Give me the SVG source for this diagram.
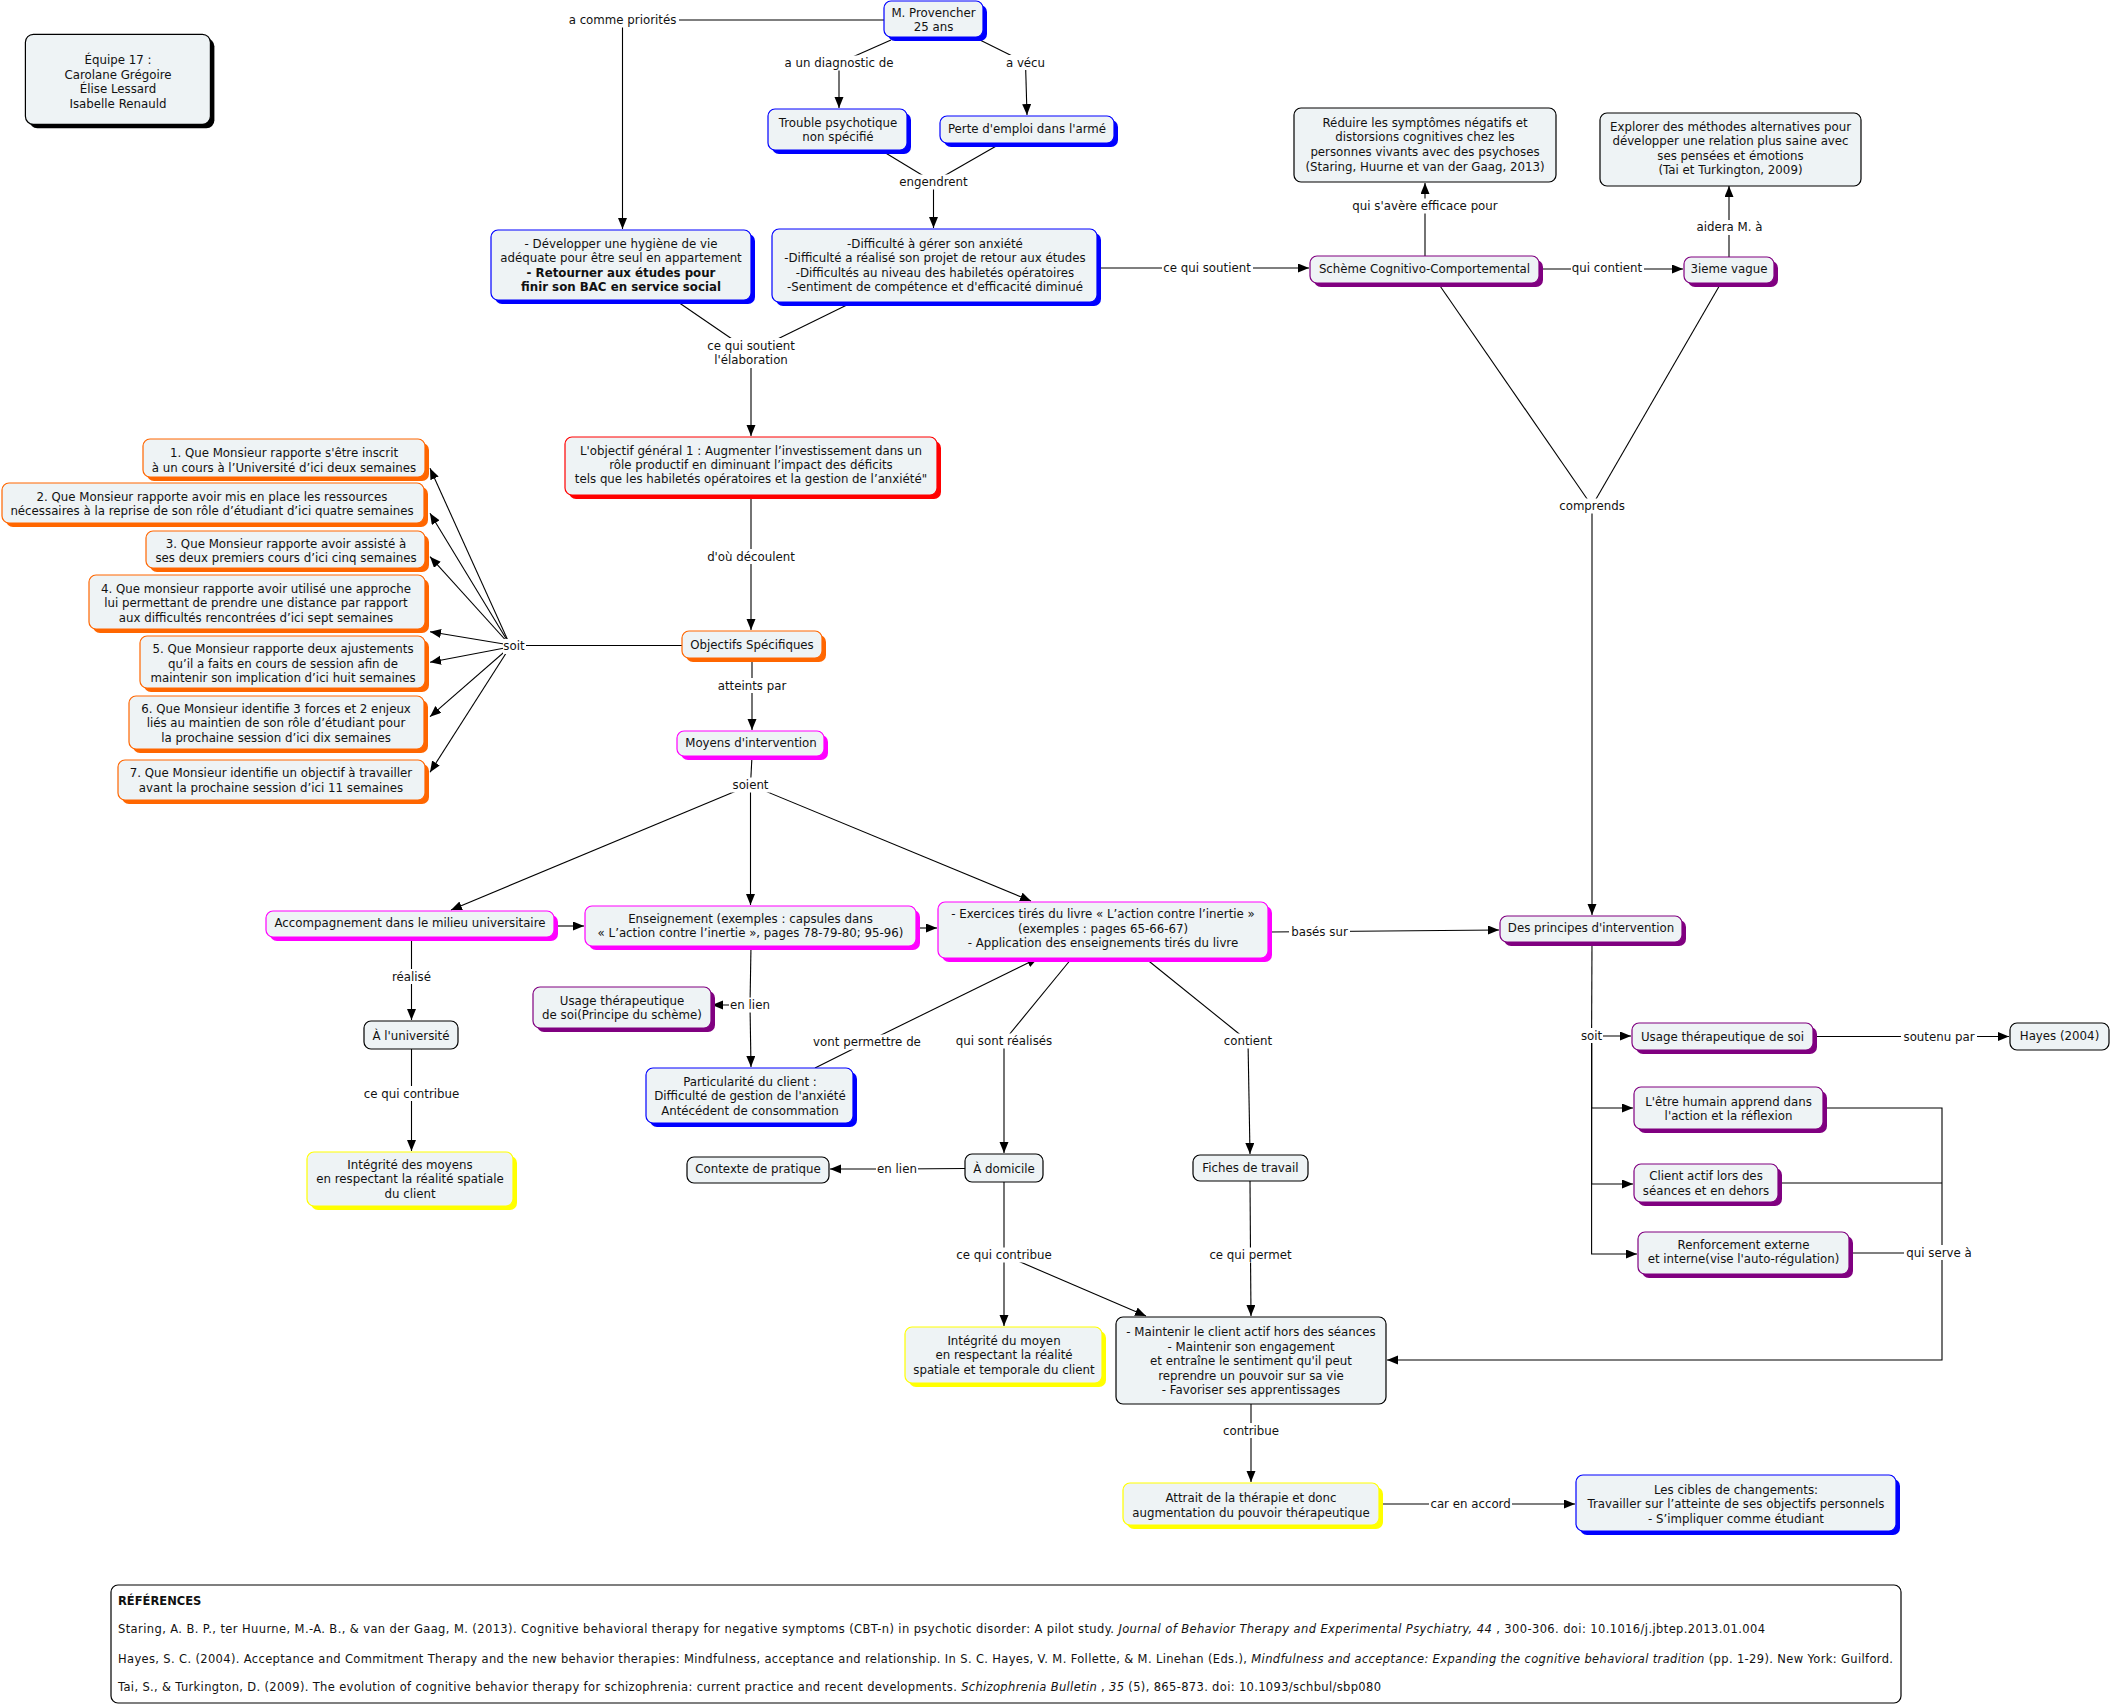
<svg xmlns="http://www.w3.org/2000/svg" width="2111" height="1706" viewBox="0 0 2111 1706">
<style>
text{font-family:"DejaVu Sans",Verdana,sans-serif;font-size:11.8px;fill:#111;text-anchor:middle}
.bx{fill:#EEF3F5;stroke-width:1.2}
.sh{stroke:none}
.blue .bx{stroke:#0000FF}.blue .sh{fill:#0000FF}
.purple .bx{stroke:#800080}.purple .sh{fill:#800080}
.mag .bx{stroke:#FF00FF}.mag .sh{fill:#FF00FF}
.orange .bx{stroke:#FF6600}.orange .sh{fill:#FF6600}
.red .bx{stroke:#FF0000}.red .sh{fill:#FF0000}
.yellow .bx{stroke:#FFFF00}.yellow .sh{fill:#FFFF00}
.black .bx{stroke:#000}.black .sh{fill:#000}
.plain .bx{stroke:#000}
.b{font-weight:bold}
#connectors path{fill:none;stroke:#000;stroke-width:1.1}
#connectors path.a{marker-end:url(#arr)}
.lab rect{fill:#fff}
.ref{text-anchor:start;font-size:11.5px}
</style>
<defs>
<marker id="arr" markerUnits="userSpaceOnUse" markerWidth="12" markerHeight="10" refX="11" refY="4.5" orient="auto"><path d="M0,0 L11,4.5 L0,9 z" fill="#000"/></marker>
</defs>
<rect width="2111" height="1706" fill="#fff"/>

<g id="connectors">
<path class="a" d="M884,20 H622.5 V229"/>
<path d="M891,40 L839,63"/><path class="a" d="M839,63 V108"/>
<path d="M980,40 L1025.5,62.7"/><path class="a" d="M1025.5,62.7 L1027,115"/>
<path d="M884,152 L933.5,182"/><path d="M998,145 L933.5,182"/><path class="a" d="M933.5,182 V228"/>
<path d="M678,302 L751,352"/><path d="M853,302 L751,352"/><path class="a" d="M751,352 V436"/>
<path class="a" d="M1097,268 H1309"/>
<path class="a" d="M1425,256 V183"/>
<path class="a" d="M1539,269 H1683"/>
<path class="a" d="M1729,257 V186"/>
<path d="M1438,283 L1592,506"/><path d="M1721,283 L1592,506"/><path class="a" d="M1592,506 V915"/>
<path class="a" d="M751,495 V630"/>
<path d="M682,645.5 H514"/>
<path class="a" d="M510,645 L430,468.3"/>
<path class="a" d="M510,645 L430,513.3"/>
<path class="a" d="M510,645 L430,556.7"/>
<path class="a" d="M510,645 L430,631.7"/>
<path class="a" d="M510,647 L430,662.3"/>
<path class="a" d="M510,647 L430,716.7"/>
<path class="a" d="M510,647 L430,772.3"/>
<path class="a" d="M752,658 V730"/>
<path d="M752,756 L750.5,785"/>
<path class="a" d="M750.5,785 L451,910"/>
<path class="a" d="M750.5,785 V905"/>
<path class="a" d="M750.5,785 L1031,901"/>
<path class="a" d="M411.5,937 V1020"/>
<path class="a" d="M554,926 H584"/>
<path class="a" d="M916,928 H937"/>
<path class="a" d="M411.5,1049 V1151"/>
<path d="M751,946 L750,1005"/><path class="a" d="M750,1005 H712"/><path class="a" d="M750,1005 L751,1067"/>
<path d="M815,1068 L867,1042"/><path class="a" d="M867,1042 L1038,958"/>
<path d="M1072,958 L1004,1041"/><path class="a" d="M1004,1041 V1153"/>
<path d="M1145,958 L1248,1041"/><path class="a" d="M1248,1041 L1250,1154"/>
<path class="a" d="M1268,932 L1499,930"/>
<path d="M965,1168.5 L897,1169"/><path class="a" d="M897,1169 H830"/>
<path d="M1004,1182 V1255"/><path class="a" d="M1004,1255 V1326"/><path class="a" d="M1004,1255 L1146,1316"/>
<path d="M1250,1181 L1250.5,1255"/><path class="a" d="M1250.5,1255 L1251,1316"/>
<path class="a" d="M1251,1404 V1482"/>
<path class="a" d="M1379,1504 H1575"/>
<path d="M1592,942 L1591.6,1036"/>
<path class="a" d="M1591.6,1036 H1631"/>
<path class="a" d="M1591.6,1036 V1108 H1633"/>
<path class="a" d="M1591.6,1036 V1184 H1633"/>
<path class="a" d="M1591.6,1036 V1254 H1637"/>
<path d="M1813,1036.5 H1939"/><path class="a" d="M1939,1036.5 H2009"/>
<path d="M1823,1108 H1942 V1253"/><path d="M1778,1183 H1942"/><path d="M1849,1253 H1939"/>
<path class="a" d="M1942,1253 V1360 H1387"/>
</g>

<g id="connector-labels" class="lab">
<rect x="566" y="12.5" width="113" height="15"/><text x="622.5" y="24">a comme priorités</text>
<rect x="781" y="55.5" width="116" height="15"/><text x="839" y="67">a un diagnostic de</text>
<rect x="1004" y="55" width="43" height="15"/><text x="1025.5" y="66.7">a vécu</text>
<rect x="898" y="174.5" width="71" height="15"/><text x="933.5" y="186">engendrent</text>
<rect x="705" y="338" width="92" height="30"/><text x="751" y="349.7">ce qui soutient</text><text x="751" y="364">l'élaboration</text>
<rect x="1162" y="260.5" width="91" height="15"/><text x="1207" y="272">ce qui soutient</text>
<rect x="1350" y="198.5" width="150" height="15"/><text x="1425" y="210">qui s'avère efficace pour</text>
<rect x="1571" y="260.5" width="73" height="15"/><text x="1607" y="272">qui contient</text>
<rect x="1695" y="220" width="70" height="15"/><text x="1729.5" y="231.3">aidera M. à</text>
<rect x="1558" y="498.5" width="68" height="15"/><text x="1592" y="510">comprends</text>
<rect x="706" y="549" width="90" height="15"/><text x="751" y="560.7">d'où découlent</text>
<rect x="503" y="639" width="23" height="15"/><text x="514" y="650">soit</text>
<rect x="716" y="678" width="72" height="15"/><text x="752" y="689.7">atteints par</text>
<rect x="731" y="777.5" width="39" height="15"/><text x="750.5" y="789">soient</text>
<rect x="391" y="969" width="41" height="15"/><text x="411.5" y="980.7">réalisé</text>
<rect x="362" y="1086" width="99" height="15"/><text x="411.5" y="1097.7">ce qui contribue</text>
<rect x="729" y="997.5" width="42" height="15"/><text x="750" y="1009.3">en lien</text>
<rect x="811" y="1034.5" width="112" height="15"/><text x="867" y="1046.3">vont permettre de</text>
<rect x="954" y="1033.5" width="100" height="15"/><text x="1004" y="1045">qui sont réalisés</text>
<rect x="1223" y="1033.5" width="50" height="15"/><text x="1248" y="1045">contient</text>
<rect x="1289" y="924" width="61" height="15"/><text x="1319.5" y="935.7">basés sur</text>
<rect x="876" y="1161.5" width="42" height="15"/><text x="897" y="1173">en lien</text>
<rect x="955" y="1247.5" width="98" height="15"/><text x="1004" y="1259">ce qui contribue</text>
<rect x="1208" y="1247.5" width="85" height="15"/><text x="1250.5" y="1259">ce qui permet</text>
<rect x="1222" y="1423" width="59" height="15"/><text x="1251" y="1434.7">contribue</text>
<rect x="1429" y="1497" width="83" height="15"/><text x="1470.6" y="1508.3">car en accord</text>
<rect x="1580" y="1028" width="23" height="15"/><text x="1591.6" y="1039.7">soit</text>
<rect x="1901" y="1029" width="76" height="15"/><text x="1939" y="1040.7">soutenu par</text>
<rect x="1904" y="1245" width="70" height="15"/><text x="1939" y="1256.7">qui serve à</text>
</g>

<g id="n-team" class="black"><rect class="sh" x="29.4" y="38.3" width="185" height="90" rx="8"/><rect class="bx" x="25.4" y="34.3" width="185" height="90" rx="8"/>
<text x="118" y="64">Équipe 17 :</text><text x="118" y="78.5">Carolane Grégoire</text><text x="118" y="93">Élise Lessard</text><text x="118" y="107.5">Isabelle Renauld</text></g>

<g id="n-prov" class="blue"><rect class="sh" x="888" y="5" width="99" height="36" rx="7"/><rect class="bx" x="884" y="1" width="99" height="36" rx="7"/>
<text x="933.5" y="16.7">M. Provencher</text><text x="933.5" y="31.3">25 ans</text></g>

<g id="n-trouble" class="blue"><rect class="sh" x="772" y="113" width="139" height="41" rx="7"/><rect class="bx" x="768" y="109" width="139" height="41" rx="7"/>
<text x="838" y="127">Trouble psychotique</text><text x="838" y="141">non spécifié</text></g>

<g id="n-perte" class="blue"><rect class="sh" x="944" y="120" width="174" height="27" rx="7"/><rect class="bx" x="940" y="116" width="174" height="27" rx="7"/>
<text x="1027" y="133.3">Perte d'emploi dans l'armé</text></g>

<g id="n-dev" class="blue"><rect class="sh" x="495" y="234" width="260" height="70" rx="7"/><rect class="bx" x="491" y="230" width="260" height="70" rx="7"/>
<text x="621" y="248">- Développer une hygiène de vie</text><text x="621" y="262.3">adéquate pour être seul en appartement</text><text x="621" y="276.7" class="b">- Retourner aux études pour</text><text x="621" y="291.3" class="b">finir son BAC en service social</text></g>

<g id="n-diff" class="blue"><rect class="sh" x="776" y="233" width="325" height="73" rx="7"/><rect class="bx" x="772" y="229" width="325" height="73" rx="7"/>
<text x="935" y="248">-Difficulté à gérer son anxiété</text><text x="935" y="262.3">-Difficulté a réalisé son projet de retour aux études</text><text x="935" y="276.7">-Difficultés au niveau des habiletés opératoires</text><text x="935" y="291.3">-Sentiment de compétence et d'efficacité diminué</text></g>

<g id="n-objgen" class="red"><rect class="sh" x="569" y="441" width="372" height="58" rx="7"/><rect class="bx" x="565" y="437" width="372" height="58" rx="7"/>
<text x="751" y="454.7">L'objectif général 1 : Augmenter l’investissement dans un</text><text x="751" y="469">rôle productif en diminuant l’impact des déficits</text><text x="751" y="483.3">tels que les habiletés opératoires et la gestion de l’anxiété"</text></g>

<g id="n-objspec" class="orange"><rect class="sh" x="686" y="635" width="140" height="27" rx="7"/><rect class="bx" x="682" y="631" width="140" height="27" rx="7"/>
<text x="752" y="649">Objectifs Spécifiques</text></g>

<g id="n-smart1" class="orange"><rect class="sh" x="147" y="443" width="282" height="38" rx="7"/><rect class="bx" x="143" y="439" width="282" height="38" rx="7"/>
<text x="284" y="457.3">1. Que Monsieur rapporte s'être inscrit</text><text x="284" y="472.3">à un cours à l’Université d’ici deux semaines</text></g>
<g id="n-smart2" class="orange"><rect class="sh" x="6" y="487" width="422" height="40" rx="7"/><rect class="bx" x="2" y="483" width="422" height="40" rx="7"/>
<text x="212" y="500.7">2. Que Monsieur rapporte avoir mis en place les ressources</text><text x="212" y="515">nécessaires à la reprise de son rôle d’étudiant d’ici quatre semaines</text></g>
<g id="n-smart3" class="orange"><rect class="sh" x="150" y="535" width="279" height="37" rx="7"/><rect class="bx" x="146" y="531" width="279" height="37" rx="7"/>
<text x="286" y="547.7">3. Que Monsieur rapporte avoir assisté à</text><text x="286" y="562">ses deux premiers cours d’ici cinq semaines</text></g>
<g id="n-smart4" class="orange"><rect class="sh" x="93" y="579" width="336" height="54" rx="7"/><rect class="bx" x="89" y="575" width="336" height="54" rx="7"/>
<text x="256" y="592.7">4. Que monsieur rapporte avoir utilisé une approche</text><text x="256" y="607.3">lui permettant de prendre une distance par rapport</text><text x="256" y="621.7">aux difficultés rencontrées d’ici sept semaines</text></g>
<g id="n-smart5" class="orange"><rect class="sh" x="144" y="640" width="285" height="52" rx="7"/><rect class="bx" x="140" y="636" width="285" height="52" rx="7"/>
<text x="283" y="653">5. Que Monsieur rapporte deux ajustements</text><text x="283" y="667.7">qu’il a faits en cours de session afin de</text><text x="283" y="682">maintenir son implication d’ici huit semaines</text></g>
<g id="n-smart6" class="orange"><rect class="sh" x="133" y="700" width="295" height="53" rx="7"/><rect class="bx" x="129" y="696" width="295" height="53" rx="7"/>
<text x="276" y="712.7">6. Que Monsieur identifie 3 forces et 2 enjeux</text><text x="276" y="727.3">liés au maintien de son rôle d’étudiant pour</text><text x="276" y="742">la prochaine session d’ici dix semaines</text></g>
<g id="n-smart7" class="orange"><rect class="sh" x="122" y="764" width="307" height="40" rx="7"/><rect class="bx" x="118" y="760" width="307" height="40" rx="7"/>
<text x="271" y="777.3">7. Que Monsieur identifie un objectif à travailler</text><text x="271" y="792.3">avant la prochaine session d’ici 11 semaines</text></g>

<g id="n-moyens" class="mag"><rect class="sh" x="681" y="735" width="147" height="25" rx="7"/><rect class="bx" x="677" y="731" width="147" height="25" rx="7"/>
<text x="751" y="746.7">Moyens d'intervention</text></g>

<g id="n-accomp" class="mag"><rect class="sh" x="270" y="915" width="288" height="26" rx="7"/><rect class="bx" x="266" y="911" width="288" height="26" rx="7"/>
<text x="410" y="926.7">Accompagnement dans le milieu universitaire</text></g>

<g id="n-enseig" class="mag"><rect class="sh" x="589" y="910" width="331" height="40" rx="7"/><rect class="bx" x="585" y="906" width="331" height="40" rx="7"/>
<text x="750.5" y="923">Enseignement (exemples : capsules dans</text><text x="750.5" y="937.3">« L’action contre l’inertie », pages 78-79-80; 95-96)</text></g>

<g id="n-exer" class="mag"><rect class="sh" x="942" y="906" width="330" height="56" rx="7"/><rect class="bx" x="938" y="902" width="330" height="56" rx="7"/>
<text x="1103" y="918.3">- Exercices tirés du livre « L’action contre l’inertie »</text><text x="1103" y="933.3">(exemples : pages 65-66-67)</text><text x="1103" y="947.3">- Application des enseignements tirés du livre</text></g>

<g id="n-univ" class="plain"><rect class="bx" x="364" y="1021" width="94" height="28" rx="7"/>
<text x="411" y="1040">À l'université</text></g>

<g id="n-integ1" class="yellow"><rect class="sh" x="311" y="1156" width="206" height="54" rx="7"/><rect class="bx" x="307" y="1152" width="206" height="54" rx="7"/>
<text x="410" y="1169">Intégrité des moyens</text><text x="410" y="1183.3">en respectant la réalité spatiale</text><text x="410" y="1197.7">du client</text></g>

<g id="n-usage1" class="purple"><rect class="sh" x="537" y="991" width="178" height="41" rx="7"/><rect class="bx" x="533" y="987" width="178" height="41" rx="7"/>
<text x="622" y="1004.7">Usage thérapeutique</text><text x="622" y="1019.3">de soi(Principe du schème)</text></g>

<g id="n-partic" class="blue"><rect class="sh" x="650" y="1072" width="207" height="55" rx="7"/><rect class="bx" x="646" y="1068" width="207" height="55" rx="7"/>
<text x="750" y="1085.7">Particularité du client :</text><text x="750" y="1100">Difficulté de gestion de l'anxiété</text><text x="750" y="1114.7">Antécédent de consommation</text></g>

<g id="n-contexte" class="plain"><rect class="bx" x="687" y="1157" width="142" height="26" rx="7"/>
<text x="758" y="1173">Contexte de pratique</text></g>

<g id="n-domicile" class="plain"><rect class="bx" x="965" y="1154" width="78" height="28" rx="7"/>
<text x="1004" y="1172.5">À domicile</text></g>

<g id="n-fiches" class="plain"><rect class="bx" x="1193" y="1155" width="115" height="26" rx="7"/>
<text x="1250.5" y="1172">Fiches de travail</text></g>

<g id="n-integ2" class="yellow"><rect class="sh" x="909" y="1331" width="197" height="56" rx="7"/><rect class="bx" x="905" y="1327" width="197" height="56" rx="7"/>
<text x="1004" y="1344.7">Intégrité du moyen</text><text x="1004" y="1359.3">en respectant la réalité</text><text x="1004" y="1374">spatiale et temporale du client</text></g>

<g id="n-maint" class="plain"><rect class="bx" x="1116" y="1317" width="270" height="87" rx="7"/>
<text x="1251" y="1335.7">- Maintenir le client actif hors des séances</text><text x="1251" y="1350.7">- Maintenir son engagement</text><text x="1251" y="1365">et entraîne le sentiment qu'il peut</text><text x="1251" y="1379.7">reprendre un pouvoir sur sa vie</text><text x="1251" y="1394">- Favoriser ses apprentissages</text></g>

<g id="n-attrait" class="yellow"><rect class="sh" x="1127" y="1487" width="256" height="42" rx="7"/><rect class="bx" x="1123" y="1483" width="256" height="42" rx="7"/>
<text x="1251" y="1502.3">Attrait de la thérapie et donc</text><text x="1251" y="1517.3">augmentation du pouvoir thérapeutique</text></g>

<g id="n-cibles" class="blue"><rect class="sh" x="1580" y="1479" width="320" height="56" rx="7"/><rect class="bx" x="1576" y="1475" width="320" height="56" rx="7"/>
<text x="1736" y="1494">Les cibles de changements:</text><text x="1736" y="1508.3">Travailler sur l’atteinte de ses objectifs personnels</text><text x="1736" y="1523">- S’impliquer comme étudiant</text></g>

<g id="n-scheme" class="purple"><rect class="sh" x="1314" y="260" width="229" height="27" rx="7"/><rect class="bx" x="1310" y="256" width="229" height="27" rx="7"/>
<text x="1424.5" y="273.3">Schème Cognitivo-Comportemental</text></g>

<g id="n-reduire" class="plain"><rect class="bx" x="1294" y="108" width="262" height="74" rx="7"/>
<text x="1425" y="126.7">Réduire les symptômes négatifs et</text><text x="1425" y="141.3">distorsions cognitives chez les</text><text x="1425" y="156">personnes vivants avec des psychoses</text><text x="1425" y="170.7">(Staring, Huurne et van der Gaag, 2013)</text></g>

<g id="n-vague" class="purple"><rect class="sh" x="1688" y="261" width="90" height="26" rx="7"/><rect class="bx" x="1684" y="257" width="90" height="26" rx="7"/>
<text x="1729" y="273.3">3ieme vague</text></g>

<g id="n-explorer" class="plain"><rect class="bx" x="1600" y="113" width="261" height="73" rx="7"/>
<text x="1730.5" y="130.7">Explorer des méthodes alternatives pour</text><text x="1730.5" y="145.3">développer une relation plus saine avec</text><text x="1730.5" y="159.7">ses pensées et émotions</text><text x="1730.5" y="174.3">(Tai et Turkington, 2009)</text></g>

<g id="n-principes" class="purple"><rect class="sh" x="1504" y="920" width="182" height="26" rx="7"/><rect class="bx" x="1500" y="916" width="182" height="26" rx="7"/>
<text x="1591" y="932.3">Des principes d'intervention</text></g>

<g id="n-usage2" class="purple"><rect class="sh" x="1636" y="1027" width="181" height="27" rx="7"/><rect class="bx" x="1632" y="1023" width="181" height="27" rx="7"/>
<text x="1722.5" y="1040.7">Usage thérapeutique de soi</text></g>

<g id="n-hayes" class="plain"><rect class="bx" x="2010" y="1023" width="99" height="27" rx="7"/>
<text x="2059.5" y="1039.5">Hayes (2004)</text></g>

<g id="n-etre" class="purple"><rect class="sh" x="1638" y="1091" width="189" height="42" rx="7"/><rect class="bx" x="1634" y="1087" width="189" height="42" rx="7"/>
<text x="1728.5" y="1105.7">L'être humain apprend dans</text><text x="1728.5" y="1120">l'action et la réflexion</text></g>

<g id="n-client" class="purple"><rect class="sh" x="1638" y="1168" width="144" height="38" rx="7"/><rect class="bx" x="1634" y="1164" width="144" height="38" rx="7"/>
<text x="1706" y="1180">Client actif lors des</text><text x="1706" y="1194.7">séances et en dehors</text></g>

<g id="n-renf" class="purple"><rect class="sh" x="1642" y="1236" width="211" height="42" rx="7"/><rect class="bx" x="1638" y="1232" width="211" height="42" rx="7"/>
<text x="1743.5" y="1249">Renforcement externe</text><text x="1743.5" y="1263.3">et interne(vise l'auto-régulation)</text></g>

<g id="n-refs"><rect x="111" y="1585" width="1790" height="118" rx="7" fill="#fff" stroke="#000" stroke-width="1.2"/>
<text class="ref b" x="118" y="1605">RÉFÉRENCES</text>
<text class="ref" x="118" y="1633" textLength="1647" lengthAdjust="spacing">Staring, A. B. P., ter Huurne, M.-A. B., &amp; van der Gaag, M. (2013). Cognitive behavioral therapy for negative symptoms (CBT-n) in psychotic disorder: A pilot study. <tspan font-style="italic">Journal of Behavior Therapy and Experimental Psychiatry, 44</tspan> , 300-306. doi: 10.1016/j.jbtep.2013.01.004</text>
<text class="ref" x="118" y="1662.7" textLength="1775" lengthAdjust="spacing">Hayes, S. C. (2004). Acceptance and Commitment Therapy and the new behavior therapies: Mindfulness, acceptance and relationship. In S. C. Hayes, V. M. Follette, &amp; M. Linehan (Eds.), <tspan font-style="italic">Mindfulness and acceptance: Expanding the cognitive behavioral tradition</tspan>  (pp. 1-29). New York: Guilford.</text>
<text class="ref" x="118" y="1691" textLength="1263" lengthAdjust="spacing">Tai, S., &amp; Turkington, D. (2009). The evolution of cognitive behavior therapy for schizophrenia: current practice and recent developments. <tspan font-style="italic">Schizophrenia Bulletin</tspan> , <tspan font-style="italic">35</tspan> (5), 865-873. doi: 10.1093/schbul/sbp080</text>
</g>
</svg>
